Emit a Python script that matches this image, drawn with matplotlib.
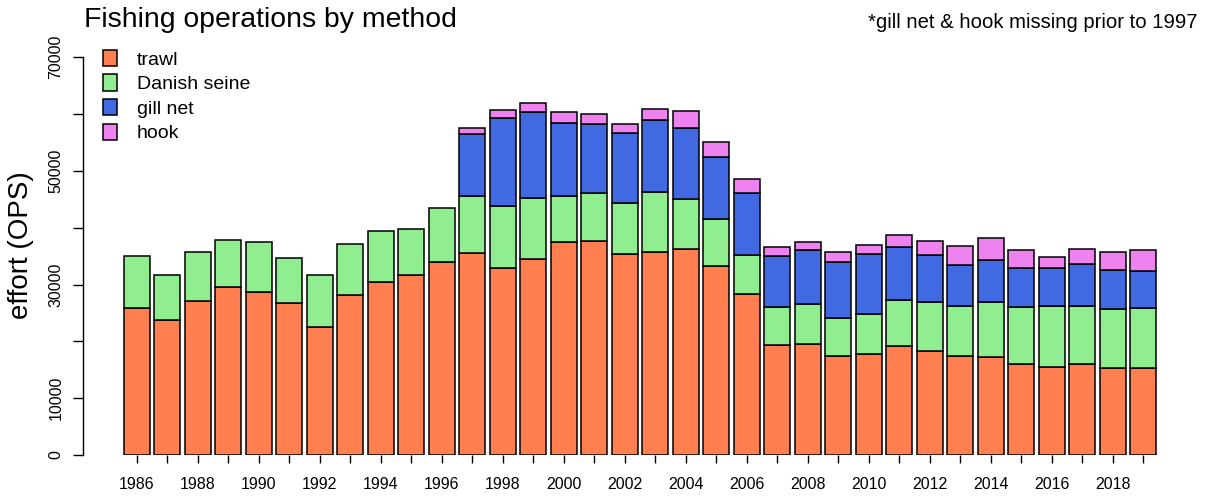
import numpy as np
import matplotlib
matplotlib.use("Agg")
import matplotlib.pyplot as plt

plt.rcParams['font.family'] = ['Liberation Sans', 'DejaVu Sans']

years = np.arange(1986, 2020)
trawl = [25800, 23800, 27100, 29500, 28700, 26800, 22600, 28200, 30500, 31600,
         34000, 35600, 32900, 34500, 37500, 37600, 35300, 35800, 36300, 33300,
         28400, 19400, 19500, 17500, 17700, 19100, 18300, 17500, 17200, 16000,
         15500, 16100, 15400, 15400]
danish_seine = [9300, 7900, 8600, 8400, 8800, 7900, 9100, 8900, 9000, 8200,
                9500, 9900, 10900, 10700, 8000, 8500, 9100, 10500, 8800, 8300,
                6800, 6700, 7100, 6600, 7100, 8100, 8700, 8700, 9800, 10100,
                10700, 10100, 10300, 10400]
# gill net & hook not recorded before 1997
gill_net = [np.nan] * 11 + [11000, 15500, 15100, 13000, 12200, 12300, 12700, 12500,
                            10900, 10900, 8900, 9500, 9900, 10600, 9400, 8200, 7200,
                            7400, 6900, 6700, 7400, 6900, 6500]
hook = [np.nan] * 11 + [1100, 1400, 1700, 1800, 1700, 1600, 1900, 3000, 2600,
                        2400, 1600, 1400, 1700, 1600, 2200, 2400, 3300, 3800,
                        3000, 2000, 2600, 3100, 3800]

series = [("trawl", trawl, "coral"),
          ("Danish seine", danish_seine, "lightgreen"),
          ("gill net", gill_net, "royalblue"),
          ("hook", hook, "violet")]

fig = plt.figure(figsize=(12.09, 4.98), dpi=100)
ax = fig.add_axes([83 / 1209, 43 / 498, (1197 - 83) / 1209, (455 - 57.3) / 498])

bottom = np.zeros(len(years))
for name, vals, col in series:
    v = np.array(vals, dtype=float)
    ax.bar(years, v, width=0.85, bottom=bottom, color=col, edgecolor="black",
           linewidth=1.1, label=name)
    bottom = bottom + np.nan_to_num(v)

ax.set_xlim(years[0] - 1.77, years[-1] + 1.77)
ax.set_ylim(0, 70000)

for s in ["top", "right", "bottom"]:
    ax.spines[s].set_visible(False)
ax.spines["left"].set_linewidth(1.0)

ax.set_xticks(years)
ax.set_xticklabels([str(y) if y % 2 == 0 else "" for y in years], fontsize=11.5)
ax.tick_params(axis="x", length=6, width=1.0, pad=10)

yt = np.arange(0, 70001, 10000)
ax.set_yticks(yt)
ax.set_yticklabels([str(t) if t in (0, 10000, 30000, 50000, 70000) else "" for t in yt],
                   rotation=90, va="center", fontsize=11.5)
ax.tick_params(axis="y", length=7, width=1.0, pad=7)

ax.set_ylabel("effort (OPS)", fontsize=20, labelpad=10.5)
ax.yaxis.label.set_y(0.528)

fig.text(84 / 1209, 1 - 20 / 498, "Fishing operations by method", fontsize=20.4,
         ha="left", va="center")
fig.text(1198 / 1209, 1 - 22 / 498, "*gill net & hook missing prior to 1997",
         fontsize=14.6, ha="right", va="center")

ax.legend(loc="upper left", bbox_to_anchor=(95 / 1209, 1 - 42 / 498),
          bbox_transform=fig.transFigure, frameon=False, fontsize=14,
          handlelength=0.75, handleheight=0.9, handletextpad=1.0,
          labelspacing=0.3, borderaxespad=0)

fig.savefig("out.png", dpi=100)
